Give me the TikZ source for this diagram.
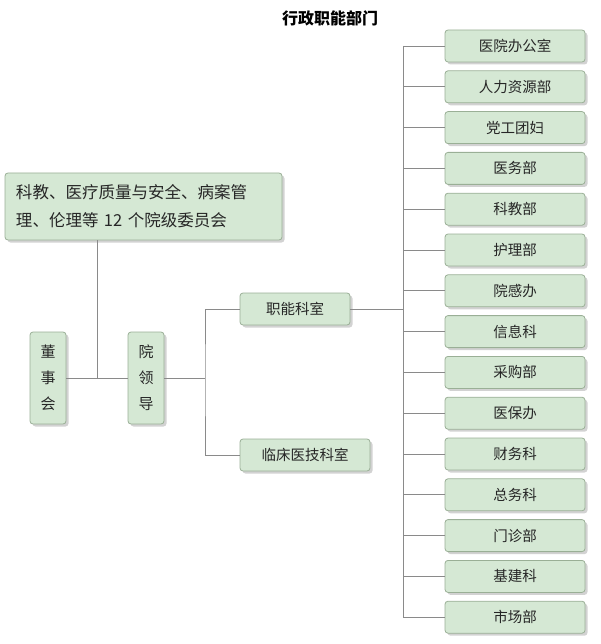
\documentclass[tikz,border=0pt]{standalone}
\usepackage{fontspec}
\setmainfont{Noto Sans CJK SC}
\newfontfamily\titlefont{Noto Sans CJK SC}
\usetikzlibrary{shadows}
\definecolor{boxfill}{HTML}{D5E8D4}
\definecolor{boxline}{HTML}{9AAF96}
\definecolor{conn}{HTML}{8A8A8A}
\tikzset{
  bx/.style={draw=boxline,fill=boxfill,rounded corners=3pt,line width=0.8pt,
    drop shadow={shadow xshift=2.5pt,shadow yshift=-2.5pt,fill=black!35},
    font=\fontsize{14.5}{17}\selectfont,text=black!85,inner sep=0pt},
  ln/.style={draw=conn,line width=0.8pt}
}
\begin{document}
\begin{tikzpicture}[x=1pt,y=-1pt]
\useasboundingbox (0,0) rectangle (600,644);
\node[font=\fontsize{16}{18}\selectfont\bfseries] (title) at (330,18) {行政职能部门};
\node[bx,minimum width=277pt,minimum height=67pt,align=left,text width=255pt,font=\fontsize{16.5}{28}\selectfont] (com) at (143.5,206.5) {科教、医疗质量与安全、病案管\\理、伦理等 12 个院级委员会};
\node[bx,minimum width=36pt,minimum height=92pt,align=center,font=\fontsize{15}{26}\selectfont] (dsh) at (48,378) {董\\事\\会};
\node[bx,minimum width=36pt,minimum height=92pt,align=center,font=\fontsize{15}{26}\selectfont] (yld) at (146,378) {院\\领\\导};
\node[bx,minimum width=110pt,minimum height=32pt] (zn) at (295,309) {职能科室};
\node[bx,minimum width=130pt,minimum height=32pt] (lc) at (305,455) {临床医技科室};
\coordinate (j) at (97,378);
\draw[ln] (com.south -| j) -- (j);
\draw[ln] (dsh.east) -- (yld.west);
\coordinate (bx1) at (205,378);
\draw[ln] (yld.east) -- (bx1);
\draw[ln] (zn.west) -| (bx1) |- (lc.west);
\coordinate (rv) at (403,309);
\draw[ln] (zn.east) -- (rv);
\foreach \t [count=\i] in {医院办公室,人力资源部,党工团妇,医务部,科教部,护理部,院感办,信息科,采购部,医保办,财务科,总务科,门诊部,基建科,市场部}{
  \node[bx,minimum width=140pt,minimum height=32pt] (d\i) at (515,{46+(\i-1)*40.8}) {\t};
  \draw[ln] (d\i.west) -- (d\i.west -| rv);
}
\draw[ln] (d1.west -| rv) -- (d15.west -| rv);
\end{tikzpicture}
\end{document}
